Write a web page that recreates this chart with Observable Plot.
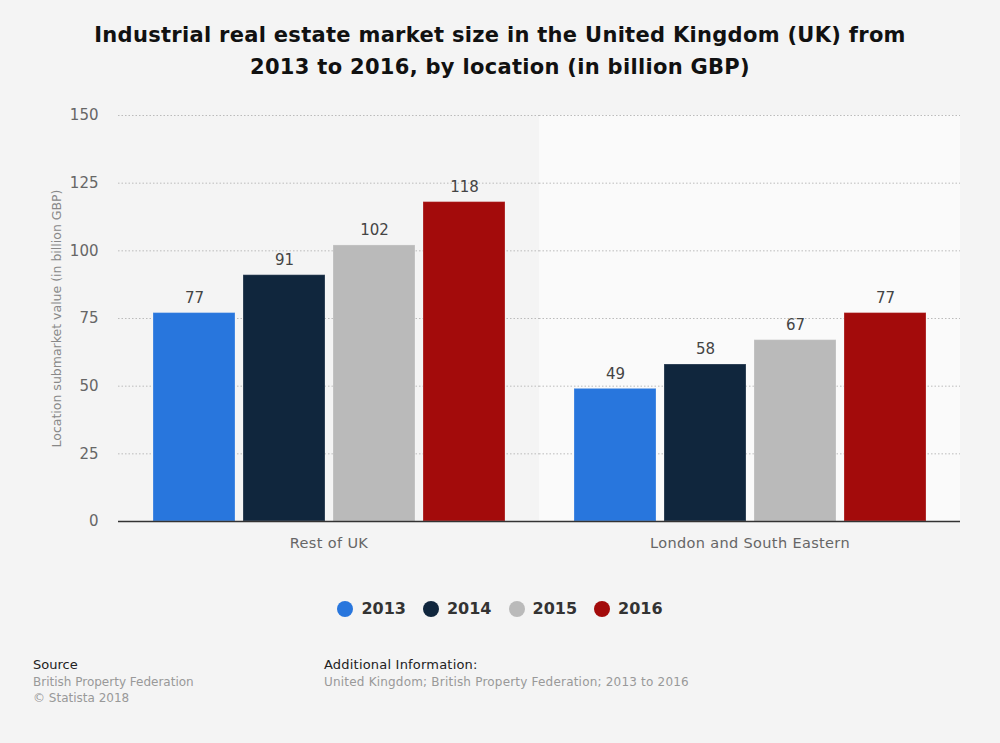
<!DOCTYPE html>
<html>
<head>
<meta charset="utf-8">
<script src="https://cdn.jsdelivr.net/npm/d3@7"></script>
<script src="https://cdn.jsdelivr.net/npm/@observablehq/plot@0.6"></script>
<style>
  html, body { margin: 0; padding: 0; background: #f4f4f4; }
  body { width: 1000px; height: 743px; position: relative; font-family: "DejaVu Sans", sans-serif; overflow: hidden; }
  #title { position: absolute; top: 19px; left: 0; width: 1000px; text-align: center; font-weight: bold; font-size: 21px; line-height: 32px; color: #111; letter-spacing: 0.3px; }
  #chart { position: absolute; top: 100px; left: 0; }
  #legend { position: absolute; top: 599px; left: 0; width: 1000px; display: flex; justify-content: center; gap: 17px; font-weight: bold; font-size: 16px; color: #333; }
  #legend .item { display: flex; align-items: center; gap: 8px; }
  #legend .dot { width: 16px; height: 16px; border-radius: 50%; display: inline-block; }
  .foot { position: absolute; font-size: 12px; line-height: 16px; color: #999; }
  .foot .h { color: #222; font-size: 13px; line-height: 18px; }
</style>
</head>
<body>
<div id="title">Industrial real estate market size in the United Kingdom (UK) from<br>2013 to 2016, by location (in billion GBP)</div>
<div id="chart"></div>
<div id="legend"></div>
<div class="foot" style="left:33px; top:656px;"><div class="h">Source</div>British Property Federation<br>© Statista 2018</div>
<div class="foot" style="left:324px; top:656px;"><div class="h" style="letter-spacing:0.2px">Additional Information:</div><span style="letter-spacing:0.2px">United Kingdom; British Property Federation; 2013 to 2016</span></div>
<script>
const locations = ["Rest of UK", "London and South Eastern"];
const years = ["2013", "2014", "2015", "2016"];
const restOfUK = [77, 91, 102, 118];
const londonSE = [49, 58, 67, 77];
const colors = ["#2876dd", "#10263d", "#bababa", "#a30b0b"];
const yTicks = [0, 25, 50, 75, 100, 125, 150];

const data = [];
years.forEach((yr, i) => {
  data.push({loc: locations[0], year: yr, value: restOfUK[i]});
  data.push({loc: locations[1], year: yr, value: londonSE[i]});
});

const chart = Plot.plot({
  width: 1000,
  height: 460,
  marginTop: 15,
  marginBottom: 39,
  marginLeft: 118,
  marginRight: 40,
  style: {background: "transparent", fontFamily: "DejaVu Sans, sans-serif"},
  fx: {domain: locations, padding: 0, label: null, axis: null},
  x: {domain: years, axis: null, paddingInner: 0.094, paddingOuter: 0.373},
  y: {domain: [0, 150], ticks: yTicks, axis: null},
  color: {domain: years, range: colors},
  marks: [
    Plot.rect([{loc: locations[1]}], {fx: "loc", fill: "#fafafa"}),
    Plot.gridY(yTicks, {stroke: "#bbb", strokeOpacity: 1, strokeDasharray: "1.5,2"}),
    Plot.axisY({ticks: yTicks, tickSize: 0, tickPadding: 20, fontSize: 15, fill: "#666", label: "Location submarket value (in billion GBP)", labelAnchor: "center", labelArrow: "none", labelOffset: 66}),
    Plot.axisFx({anchor: "bottom", tickSize: 0, tickPadding: 16, fontSize: 14.5, fill: "#666", label: null}),
    Plot.barY(data, {fx: "loc", x: "year", y: "value", fill: "year", stroke: "#ffffff", strokeOpacity: 0.25, strokeWidth: 1}),
    Plot.text(data, {fx: "loc", x: "year", y: "value", text: d => String(d.value), dy: -15, fontSize: 15, fill: "#444"}),
    Plot.ruleY([0], {stroke: "#333", strokeWidth: 1.3})
  ]
});
document.getElementById("chart").appendChild(chart);
chart.querySelectorAll("text").forEach(t => {
  const s = t.textContent;
  if (s.startsWith("Location submarket")) { t.setAttribute("font-size", "12.5"); t.setAttribute("fill", "#888"); }
  if (s === "Rest of UK" || s === "London and South Eastern") { t.setAttribute("letter-spacing", "0.35"); }
});

const legend = document.getElementById("legend");
years.forEach((yr, i) => {
  const it = document.createElement("div");
  it.className = "item";
  it.innerHTML = `<span class="dot" style="background:${colors[i]}"></span><span>${yr}</span>`;
  legend.appendChild(it);
});
</script>
</body>
</html>
